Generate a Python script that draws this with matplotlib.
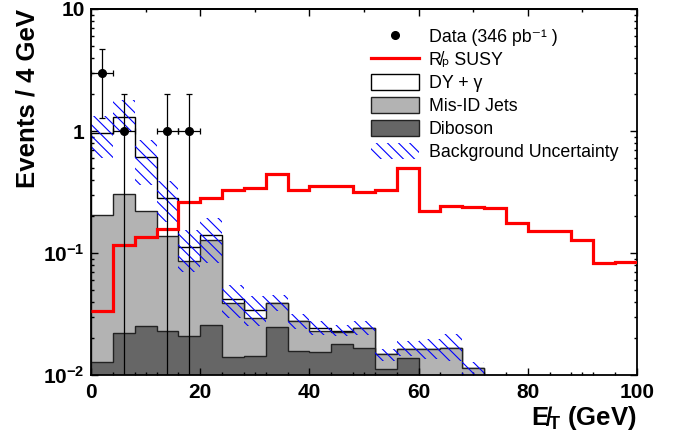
import numpy as np
import matplotlib
matplotlib.use('Agg')
import matplotlib.pyplot as plt
from matplotlib.patches import Patch
from matplotlib.lines import Line2D
from matplotlib.ticker import FixedLocator, FixedFormatter, LogLocator, NullFormatter

plt.rcParams['font.family'] = ['Liberation Sans', 'DejaVu Sans']
plt.rcParams['mathtext.fontset'] = 'custom'
plt.rcParams['mathtext.rm'] = 'Liberation Sans'
plt.rcParams['mathtext.it'] = 'Liberation Sans:italic'
plt.rcParams['mathtext.bf'] = 'Liberation Sans:bold'
plt.rcParams['hatch.linewidth'] = 0.8

# binning: 4 GeV bins
edges_bkg = np.arange(0, 73, 4)      # backgrounds 0-72 GeV
edges_dib = np.arange(0, 61, 4)      # diboson 0-60 GeV
edges_sig = np.arange(0, 101, 4)     # signal 0-100 GeV

# background components (stacked)
diboson = [0.0127, 0.0223, 0.0252, 0.0229, 0.0209, 0.0256, 0.0142, 0.0143,
           0.0247, 0.0159, 0.0155, 0.0181, 0.0167, 0.0113, 0.0138]
misid = [0.193, 0.283, 0.194, 0.114, 0.0656, 0.102, 0.0251, 0.0153, 0.0146,
         0.0117, 0.0077, 0.0045, 0.0076, 0.0036, 0.0025, 0.0165, 0.0168, 0.0115]
dy = [0.764, 0.995, 0.391, 0.146, 0.0265, 0.013, 0.0025, 0.0045, 0.0, 0.0,
      0.0011, 0.0006, 0.0, 0.0, 0.0, 0.0, 0.0, 0.0]

# background uncertainty band
unc_lo = [0.60, 0.99, 0.364, 0.179, 0.0698, 0.0833, 0.0296, 0.0252, 0.0335,
          0.0237, 0.0213, 0.0209, 0.0213, 0.0131, 0.0143, 0.0135, 0.0131, 0.0101]
unc_hi = [1.32, 1.80, 0.85, 0.392, 0.156, 0.194, 0.0543, 0.0445, 0.0453,
          0.0315, 0.0276, 0.0256, 0.0276, 0.0165, 0.019, 0.0199, 0.0216, 0.0127]

# RPV SUSY signal
susy = [0.0335, 0.116, 0.135, 0.159, 0.261, 0.285, 0.327, 0.339, 0.447, 0.326,
        0.352, 0.352, 0.315, 0.331, 0.494, 0.223, 0.241, 0.238, 0.233, 0.178,
        0.152, 0.153, 0.129, 0.0833, 0.0853]

# data
data_x = [2, 6, 14, 18]
data_y = [3, 1, 1, 1]

# stack
dib_full = np.zeros(len(misid))
dib_full[:len(diboson)] = diboson
mis_top = dib_full + np.array(misid)
tot = mis_top + np.array(dy)

fig, ax = plt.subplots(figsize=(6.78, 4.45), dpi=100)
fig.subplots_adjust(left=0.1342, right=0.9395, top=0.9798, bottom=0.157)

base = 1e-4
ax.stairs(tot, edges_bkg, baseline=base, fill=True, facecolor='white', zorder=1)
ax.stairs(tot, edges_bkg, baseline=base, color='black', lw=1, zorder=1.1)
ax.stairs(mis_top, edges_bkg, baseline=base, fill=True, facecolor='#b3b3b3', zorder=1.2)
ax.stairs(mis_top, edges_bkg, baseline=base, color='#222222', lw=1, zorder=1.3)
ax.stairs(diboson, edges_dib, baseline=base, fill=True, facecolor='#666666', zorder=1.4)
ax.stairs(diboson, edges_dib, baseline=base, color='#222222', lw=1, zorder=1.5)

# uncertainty hatch
ax.stairs(unc_hi, edges_bkg, baseline=unc_lo, fill=True, facecolor='none',
          edgecolor='blue', hatch='\\\\\\', lw=0, zorder=2)

# signal
ax.stairs(susy, edges_sig, baseline=None, color='red', lw=2.3, zorder=3)

# data with sqrt(N) errors
dy_err = np.sqrt(data_y)
err_lo = np.minimum(dy_err, np.array(data_y) - base)
ax.errorbar(data_x, data_y, xerr=2, yerr=[err_lo, dy_err], fmt='o', color='black',
            ms=5.5, lw=0.9, capsize=2, capthick=0.9, zorder=4)

ax.set_xlim(0, 100)
ax.set_yscale('log')
ax.set_ylim(0.01, 10)

ax.xaxis.set_major_locator(FixedLocator([0, 20, 40, 60, 80, 100]))
ax.xaxis.set_minor_locator(FixedLocator(sorted(set(list(range(0, 101, 4)) + list(range(10, 100, 20))))))
ax.yaxis.set_major_locator(FixedLocator([0.01, 0.1, 1, 10]))
ax.yaxis.set_major_formatter(FixedFormatter([r'$\mathbf{10^{-2}}$', r'$\mathbf{10^{-1}}$', '1', '10']))
ax.yaxis.set_minor_locator(LogLocator(base=10, subs=np.arange(2, 10)))
ax.yaxis.set_minor_formatter(NullFormatter())
ax.tick_params(which='both', direction='in', right=True, labelsize=15, width=1)
ax.tick_params(which='major', length=5)
ax.tick_params(which='minor', length=2.5)
ax.tick_params(axis='x', pad=6)
ax.tick_params(axis='y', pad=4.5)
for lab in ax.get_xticklabels() + ax.get_yticklabels():
    lab.set_fontweight('bold')

top = ax.secondary_xaxis('top')
top.xaxis.set_major_locator(FixedLocator([0, 20, 40, 60, 80, 100]))
top.xaxis.set_minor_locator(FixedLocator(list(range(10, 100, 20))))
top.tick_params(which='both', direction='in', labeltop=False, width=1)
top.tick_params(which='major', length=5)
top.tick_params(which='minor', length=2.5)

for sp in ax.spines.values():
    sp.set_linewidth(1.3)
top.spines['top'].set_linewidth(1.3)

ax.set_ylabel('Events / 4 GeV', fontsize=18.5, fontweight='bold', loc='top', labelpad=3)
ax.set_xlabel('E\u0338$_{\\mathbf{T}}$ (GeV)', fontsize=18.5, fontweight='bold', loc='right', labelpad=1)

handles = [
    Line2D([], [], marker='o', color='black', ls='none', ms=5.5),
    Line2D([], [], color='red', lw=2.3),
    Patch(facecolor='white', edgecolor='black', lw=1),
    Patch(facecolor='#b3b3b3', edgecolor='#222222', lw=1),
    Patch(facecolor='#666666', edgecolor='#222222', lw=1),
    Patch(facecolor='none', edgecolor='blue', hatch='\\\\\\', lw=0),
]
labels = ['Data (346 pb\u207b\u00b9 )', 'R\u0338\u209a SUSY', 'DY + \u03b3',
          'Mis-ID Jets', 'Diboson', 'Background Uncertainty']
ax.legend(handles, labels, loc='upper left', bbox_to_anchor=(0.5, 0.967), frameon=False,
          fontsize=12.8, handlelength=2.7, handleheight=0.94, handletextpad=0.55,
          labelspacing=0.3, borderaxespad=0)

plt.savefig('out.png', dpi=100)
